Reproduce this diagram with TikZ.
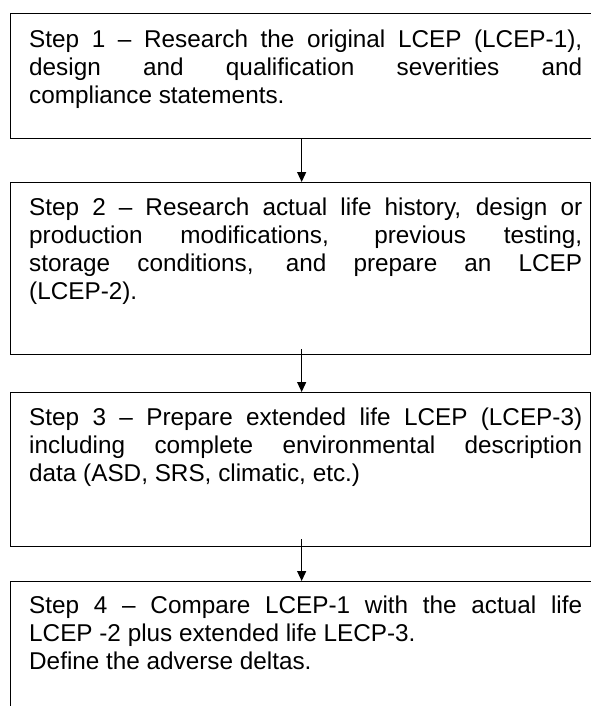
\documentclass[tikz,border=0pt]{standalone}
\usepackage{fontspec}
\setmainfont{Liberation Sans}
\usetikzlibrary{arrows.meta}
\begin{document}
\begin{tikzpicture}[x=1pt,y=-1pt,
  stepbox/.style={draw=black, line width=1.3pt, inner sep=0pt, anchor=north west},
  steptext/.style={anchor=north west, inner sep=0pt, text width=553pt, align=justify,
    font=\fontsize{24.3}{28}\selectfont},
  flow/.style={draw=black, line width=1.2pt, -{Triangle[width=9pt,length=10pt]}}]
\useasboundingbox (0,0) rectangle (591,706);
\clip (0,0) rectangle (591,706);
% boxes
\node[stepbox, minimum width=582pt, minimum height=125pt] (b1) at (10,13) {};
\node[stepbox, minimum width=580pt, minimum height=172pt] (b2) at (10,182) {};
\node[stepbox, minimum width=580pt, minimum height=154pt] (b3) at (10,392) {};
\node[stepbox, minimum width=582pt, minimum height=160pt] (b4) at (10,581) {};
% texts
\node[steptext] (t1) at (29,27.4) {\strut Step 1 – Research the original LCEP (LCEP-1),\linebreak design and qualification severities and\linebreak compliance statements.};
\node[steptext] (t2) at (29,195.4) {\strut Step 2 – Research actual life history, design or\linebreak production modifications, previous testing,\linebreak storage conditions, and prepare an LCEP\linebreak (LCEP-2).};
\node[steptext] (t3) at (29,405.4) {\strut Step 3 – Prepare extended life LCEP (LCEP-3)\linebreak including complete environmental description\linebreak data (ASD, SRS, climatic, etc.)};
\node[steptext] (t4) at (29,593.4) {\strut Step 4 – Compare LCEP-1 with the actual life\linebreak LCEP -2 plus extended life LECP-3.\par\noindent Define the adverse deltas.};
% arrows
\draw[flow] (b1.south) -- (b1.south |- b2.north);
\draw[flow] ([yshift=6pt]b1.south |- b2.south) -- (b1.south |- b3.north);
\draw[flow] ([yshift=8pt]b1.south |- b3.south) -- (b1.south |- b4.north);
\end{tikzpicture}
\end{document}
